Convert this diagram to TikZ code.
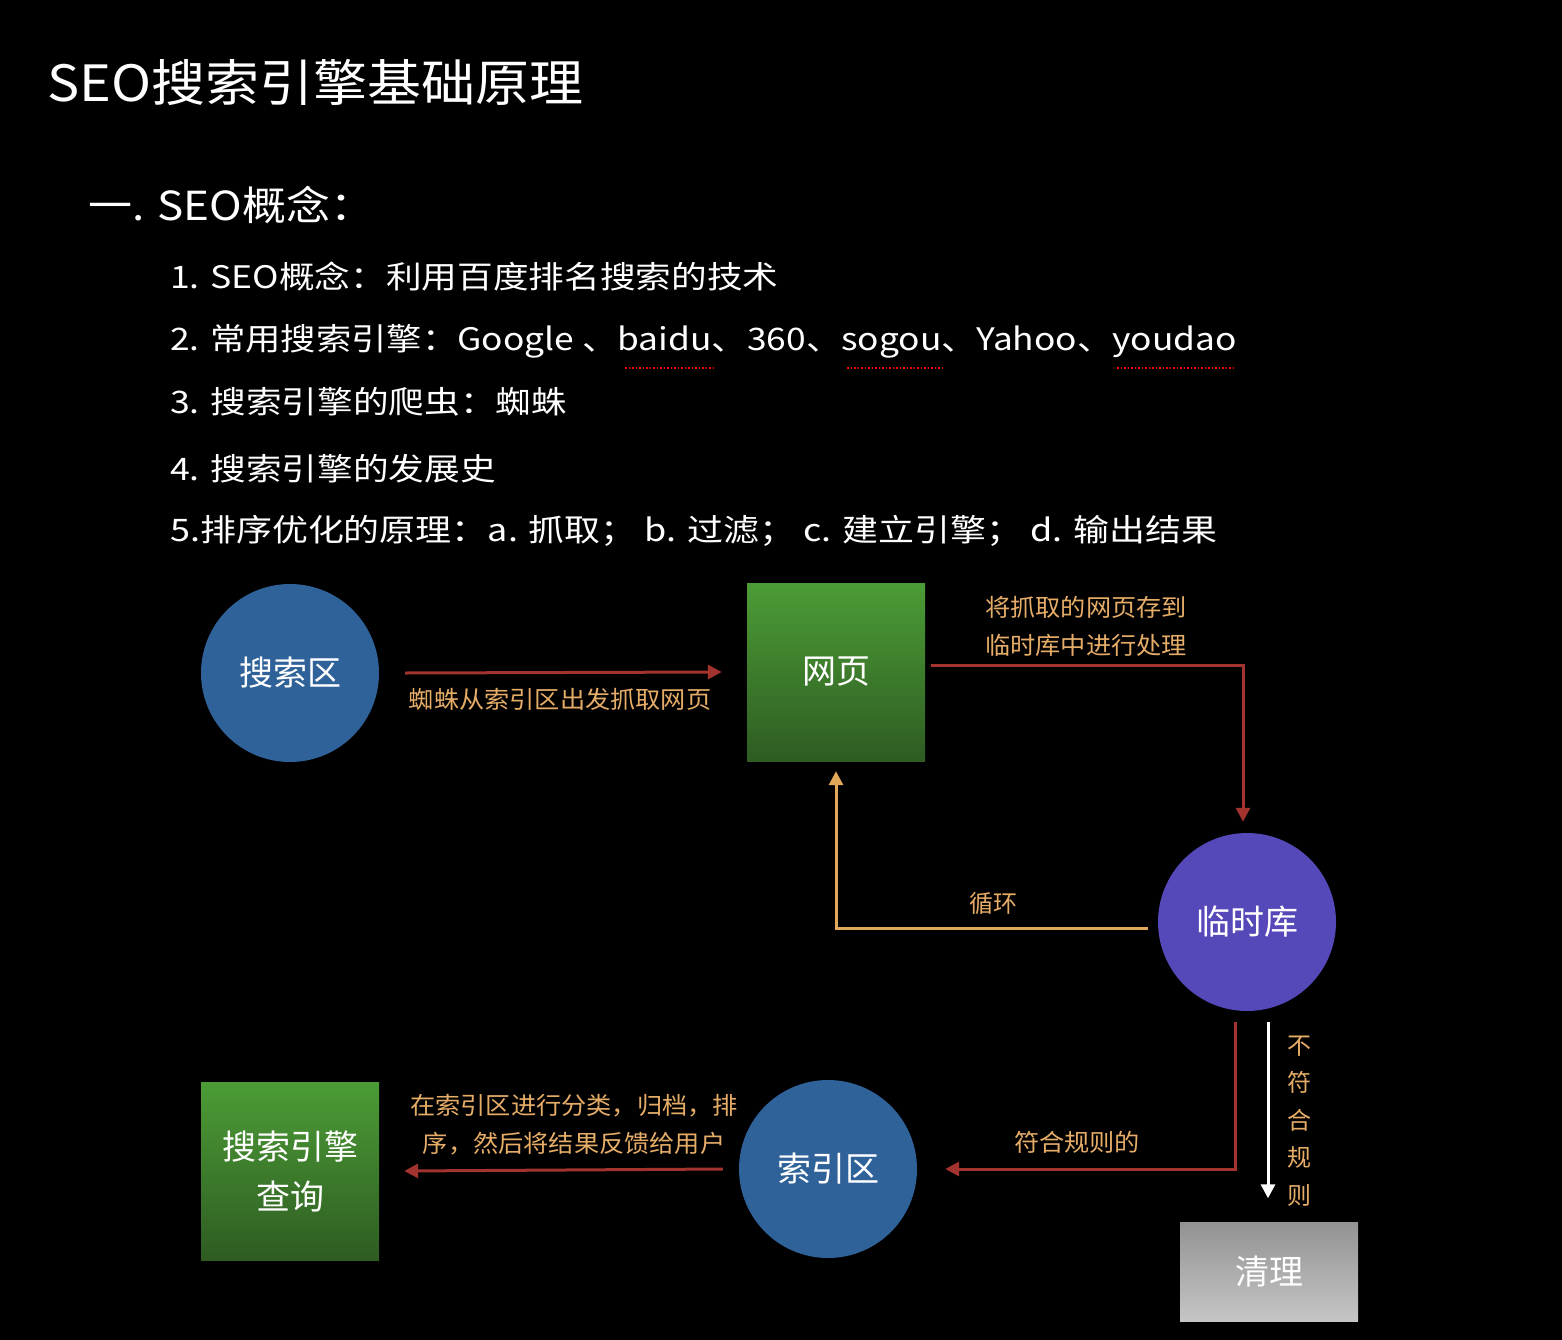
\documentclass[tikz,border=0pt]{standalone}
\usepackage{fontspec}
\usepackage{graphicx}
\setmainfont{Noto Sans CJK SC}
\usetikzlibrary{arrows.meta,positioning,calc}
\definecolor{bluecirc}{HTML}{30629A}
\definecolor{purplecirc}{HTML}{5548B8}
\definecolor{greentop}{HTML}{4C9C36}
\definecolor{greenbot}{HTML}{2E5C22}
\definecolor{redline}{HTML}{A3332E}
\definecolor{orangeline}{HTML}{E2A85A}
\definecolor{labeltxt}{HTML}{E6AD68}
\newcommand{\wide}[2][1.15]{\scalebox{#1}[1]{#2}}
\begin{document}
\begin{tikzpicture}[
    x=1pt, y=-1pt,
    circ/.style={circle,fill=bluecirc,minimum size=178pt,inner sep=0pt,text=white,font=\fontsize{34}{40}\selectfont},
    sqbox/.style={rectangle,top color=greentop,bottom color=greenbot,minimum size=178pt,inner sep=0pt,text=white,align=center,font=\fontsize{34}{50}\selectfont},
    listitem/.style={anchor=west,text=white,inner sep=0pt,font=\fontsize{31}{36}\selectfont},
    lbl/.style={text=labeltxt,inner sep=0pt,align=center,font=\fontsize{24}{38}\selectfont},
    conn/.style={draw=redline,line width=3pt,-{Triangle[length=14pt,width=14pt]}},
    spell/.style={draw=red,dotted,line width=1.5pt},
  ]
  \fill[black] (0,0) rectangle (1562,1340);
  % Heading and list
  \node[listitem,font=\fontsize{50}{56}\selectfont] (title) at (47,82) {\wide[1.08]{SEO搜索引擎基础原理}};
  \node[listitem,font=\fontsize{40}{46}\selectfont] (sec) at (88,205) {\wide[1.1]{一. SEO概念：}};
  \node[listitem] (l1) at (170,277) {\wide{1. SEO概念：利用百度排名搜索的技术}};
  \node[listitem] (l2) at (170,341) {\wide[1.14]{2. 常用搜索引擎：Google 、baidu、360、sogou、Yahoo、youdao}};
  \node[listitem] (l3) at (170,402) {\wide{3. 搜索引擎的爬虫：蜘蛛}};
  \node[listitem] (l4) at (170,469) {\wide{4. 搜索引擎的发展史}};
  \node[listitem] (l5) at (170,531) {\wide[1.16]{5.排序优化的原理：a. 抓取； b. 过滤； c. 建立引擎； d. 输出结果}};
  \draw[spell] (625,368) -- (714,368);
  \draw[spell] (847,368) -- (944,368);
  \draw[spell] (1117,368) -- (1234,368);
  % Nodes of the flow
  \node[circ] (search) at (290,673) {搜索区};
  \node[sqbox] (page) at (836,672) {网页};
  \node[circ,fill=purplecirc] (temp) at (1247,922) {临时库};
  \node[circ] (index) at (828,1169) {索引区};
  \node[sqbox] (query) at (290,1171) {搜索引擎\\查询};
  \node[sqbox,top color=gray!85,bottom color=gray!45,minimum width=178pt,minimum height=99pt] (clean) at (1269,1272) {清理};
  % Connectors
  \draw[conn] ([xshift=26pt]search.east) -- ([xshift=-25pt]page.west);
  \node[lbl] at (560,699) {\wide[1.05]{蜘蛛从索引区出发抓取网页}};
  \draw[conn] ([xshift=6pt,yshift=7pt]page.east) -| ([xshift=-4pt,yshift=11pt]temp.north);
  \node[lbl] at (1086,626) {\wide[1.05]{将抓取的网页存到}\\\wide[1.05]{临时库中进行处理}};
  \draw[draw=orangeline,line width=3pt,-{Triangle[length=14pt,width=14pt]}]
    ([xshift=-10pt,yshift=-6pt]temp.west) -| ([yshift=-10pt]page.south);
  \node[lbl] at (993,903) {循环};
  \draw[conn] ([xshift=-12pt,yshift=-11pt]temp.south) |- ([xshift=28pt]index.east);
  \node[lbl] at (1077,1142) {\wide[1.05]{符合规则的}};
  \draw[draw=white,line width=3pt,-{Triangle[length=14pt,width=14pt]}]
    ([xshift=21pt,yshift=-11pt]temp.south) -- ([yshift=24pt]clean.north -| {(1268,0)});
  \node[lbl,font=\fontsize{24}{37.5}\selectfont] at (1299,1121) {不\\符\\合\\规\\则};
  \draw[conn] ([xshift=-16pt]index.west) -- ([xshift=25pt]query.east);
  \node[lbl] at (574,1125) {\wide[1.05]{在索引区进行分类，归档，排}\\\wide[1.05]{序，然后将结果反馈给用户}};
\end{tikzpicture}
\end{document}
